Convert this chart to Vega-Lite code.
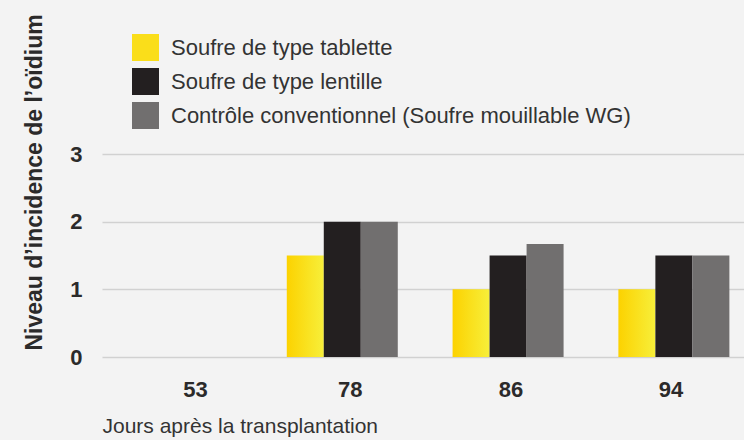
{
  "$schema": "https://vega.github.io/schema/vega-lite/v6.json",
  "autosize": "none",
  "width": 642,
  "height": 203,
  "padding": {"left": 102, "top": 154, "right": 0, "bottom": 83},
  "background": "#F3F3F3",
  "config": {
    "view": {"stroke": null},
    "font": "Liberation Sans"
  },
  "data": {
    "values": [
      {"jour": "53", "serie": "Soufre de type tablette", "niveau": 0},
      {"jour": "53", "serie": "Soufre de type lentille", "niveau": 0},
      {"jour": "53", "serie": "Contrôle conventionnel (Soufre mouillable WG)", "niveau": 0},
      {"jour": "78", "serie": "Soufre de type tablette", "niveau": 1.5},
      {"jour": "78", "serie": "Soufre de type lentille", "niveau": 2},
      {"jour": "78", "serie": "Contrôle conventionnel (Soufre mouillable WG)", "niveau": 2},
      {"jour": "86", "serie": "Soufre de type tablette", "niveau": 1},
      {"jour": "86", "serie": "Soufre de type lentille", "niveau": 1.5},
      {"jour": "86", "serie": "Contrôle conventionnel (Soufre mouillable WG)", "niveau": 1.67},
      {"jour": "94", "serie": "Soufre de type tablette", "niveau": 1},
      {"jour": "94", "serie": "Soufre de type lentille", "niveau": 1.5},
      {"jour": "94", "serie": "Contrôle conventionnel (Soufre mouillable WG)", "niveau": 1.5}
    ]
  },
  "mark": {"type": "bar"},
  "encoding": {
    "x": {
      "field": "jour",
      "type": "nominal",
      "sort": ["53", "78", "86", "94"],
      "scale": {"paddingInner": 0.3305, "paddingOuter": 0.1013, "align": 0.565},
      "axis": {
        "labelAngle": 0,
        "labelFont": "Liberation Sans",
        "labelFontWeight": "bold",
        "labelFontSize": 22,
        "labelColor": "#2B2A2A",
        "labelPadding": 22,
        "labelBaseline": "top",
        "labelOffset": {"expr": "datum.value === '53' ? 19 : datum.value === '78' ? 8 : datum.value === '86' ? 3 : -3"},
        "ticks": false,
        "domain": false,
        "grid": false,
        "title": "Jours après la transplantation",
        "titleFont": "Liberation Sans",
        "titleFontWeight": "normal",
        "titleFontSize": 21,
        "titleColor": "#333333",
        "titleAnchor": "start",
        "titleAlign": "left",
        "titleBaseline": "alphabetic",
        "titleX": 0,
        "titleY": 75
      }
    },
    "xOffset": {
      "field": "serie",
      "type": "nominal",
      "sort": ["Soufre de type tablette", "Soufre de type lentille", "Contrôle conventionnel (Soufre mouillable WG)"],
      "scale": {"paddingInner": 0, "paddingOuter": 0}
    },
    "y": {
      "field": "niveau",
      "type": "quantitative",
      "scale": {"domain": [0, 3], "nice": false},
      "axis": {
        "values": [0, 1, 2, 3],
        "format": "d",
        "labelFont": "Liberation Sans",
        "labelFontWeight": "bold",
        "labelFontSize": 22,
        "labelColor": "#2B2A2A",
        "labelPadding": 20,
        "ticks": false,
        "domain": false,
        "grid": true,
        "gridColor": "#D1D1D1",
        "gridWidth": 1.5,
        "title": "Niveau d’incidence de l’oïdium",
        "titleFont": "Liberation Sans",
        "titleFontWeight": "bold",
        "titleFontSize": 23,
        "titleColor": "#2B2A2A",
        "titleAngle": -90,
        "titleAlign": "left",
        "titleBaseline": "middle",
        "titleX": -68,
        "titleY": 196
      }
    },
    "color": {
      "condition": {
        "test": "datum.serie === 'Soufre de type tablette'",
        "value": {
          "gradient": "linear",
          "x1": 0, "y1": 0, "x2": 1, "y2": 0,
          "stops": [
            {"offset": 0, "color": "#FCD200"},
            {"offset": 1, "color": "#F7EF3A"}
          ]
        }
      },
      "field": "serie",
      "type": "nominal",
      "sort": ["Soufre de type tablette", "Soufre de type lentille", "Contrôle conventionnel (Soufre mouillable WG)"],
      "scale": {
        "domain": ["Soufre de type tablette", "Soufre de type lentille", "Contrôle conventionnel (Soufre mouillable WG)"],
        "range": ["#FADE1A", "#231F20", "#716F6F"]
      },
      "legend": {
        "title": null,
        "orient": "none",
        "legendX": 30,
        "legendY": -120,
        "padding": 0,
        "symbolType": "square",
        "symbolSize": 729,
        "symbolStrokeWidth": 0,
        "symbolOpacity": 1,
        "labelFont": "Liberation Sans",
        "labelFontSize": 22,
        "labelColor": "#333333",
        "labelOffset": 12,
        "labelLimit": 600,
        "rowPadding": 7,
        "encode": {
          "symbols": {
            "update": {
              "fill": [
                {
                  "test": "datum.value === 'Soufre de type tablette'",
                  "value": {
                    "gradient": "linear",
                    "x1": 0, "y1": 0, "x2": 1, "y2": 0,
                    "stops": [
                      {"offset": 0, "color": "#FCD200"},
                      {"offset": 1, "color": "#F7EF3A"}
                    ]
                  }
                },
                {"scale": "color", "field": "value"}
              ]
            }
          }
        }
      }
    }
  }
}
